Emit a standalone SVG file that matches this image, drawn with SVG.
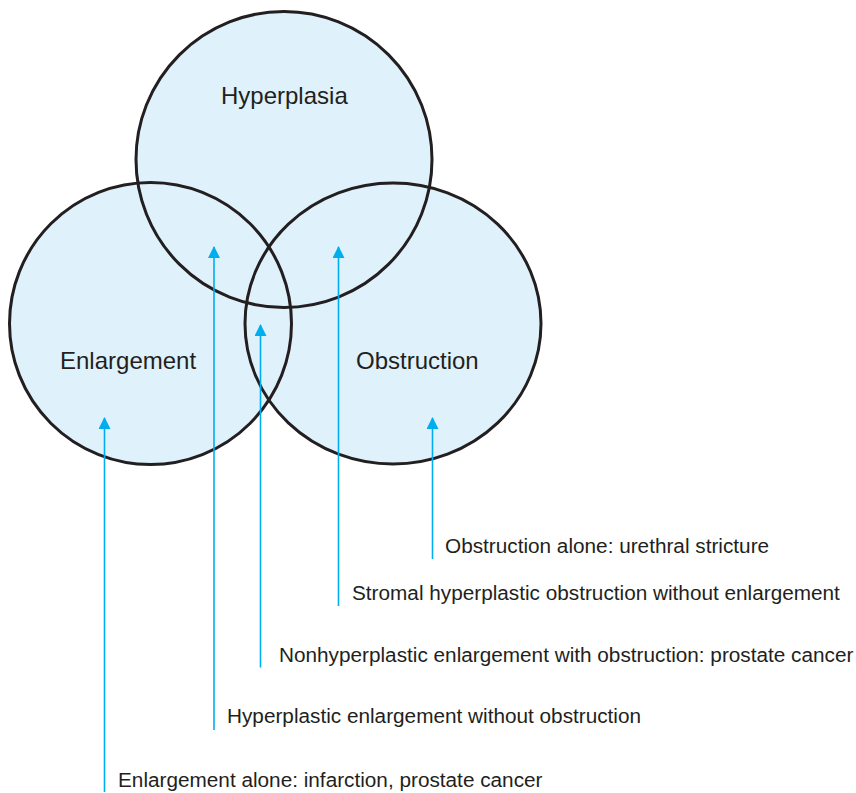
<svg xmlns="http://www.w3.org/2000/svg" width="856" height="793" viewBox="0 0 856 793">
  <style>
    .fill { fill: #dff1fb; stroke: none; }
    .ring { fill: none; stroke: #231f20; stroke-width: 3; }
    .title { font-family: "Liberation Sans", Arial, sans-serif; font-size: 24px; fill: #231f20; }
    .lbl { font-family: "Liberation Sans", Arial, sans-serif; font-size: 20.75px; fill: #231f20; }
    .arrow { stroke: #00aeef; stroke-width: 1.6; fill: none; marker-end: url(#head); }
  </style>
  <defs>
    <marker id="head" viewBox="0 0 12 12" refX="11" refY="6" markerWidth="12" markerHeight="12" markerUnits="userSpaceOnUse" orient="auto">
      <path d="M0,0 L12,6 L0,12 Z" fill="#00aeef"/>
    </marker>
  </defs>
  <rect width="856" height="793" fill="#ffffff"/>
  <g id="fills">
    <circle class="fill" cx="284" cy="159.5" r="148"/>
    <circle class="fill" cx="150.5" cy="323.5" r="141"/>
    <ellipse class="fill" cx="393" cy="323.5" rx="148" ry="140.5"/>
  </g>
  <g id="node-hyperplasia">
    <circle class="ring" cx="284" cy="159.5" r="148"/>
    <text class="title" x="221" y="104">Hyperplasia</text>
  </g>
  <g id="node-enlargement">
    <circle class="ring" cx="150.5" cy="323.5" r="141"/>
    <text class="title" x="60" y="369">Enlargement</text>
  </g>
  <g id="node-obstruction">
    <ellipse class="ring" cx="393" cy="323.5" rx="148" ry="140.5"/>
    <text class="title" x="356" y="369">Obstruction</text>
  </g>
  <g id="connectors">
    <line class="arrow" x1="104.5" y1="792" x2="104.5" y2="418"/>
    <line class="arrow" x1="214" y1="730" x2="214" y2="247"/>
    <line class="arrow" x1="260.5" y1="667.5" x2="260.5" y2="325"/>
    <line class="arrow" x1="338.5" y1="606" x2="338.5" y2="247"/>
    <line class="arrow" x1="432.5" y1="559" x2="432.5" y2="418"/>
  </g>
  <g id="labels">
    <text class="lbl" x="445" y="552.5">Obstruction alone: urethral stricture</text>
    <text class="lbl" x="352" y="600">Stromal hyperplastic obstruction without enlargement</text>
    <text class="lbl" x="279" y="661.5">Nonhyperplastic enlargement with obstruction: prostate cancer</text>
    <text class="lbl" x="227" y="723">Hyperplastic enlargement without obstruction</text>
    <text class="lbl" x="118" y="786.5">Enlargement alone: infarction, prostate cancer</text>
  </g>
</svg>
